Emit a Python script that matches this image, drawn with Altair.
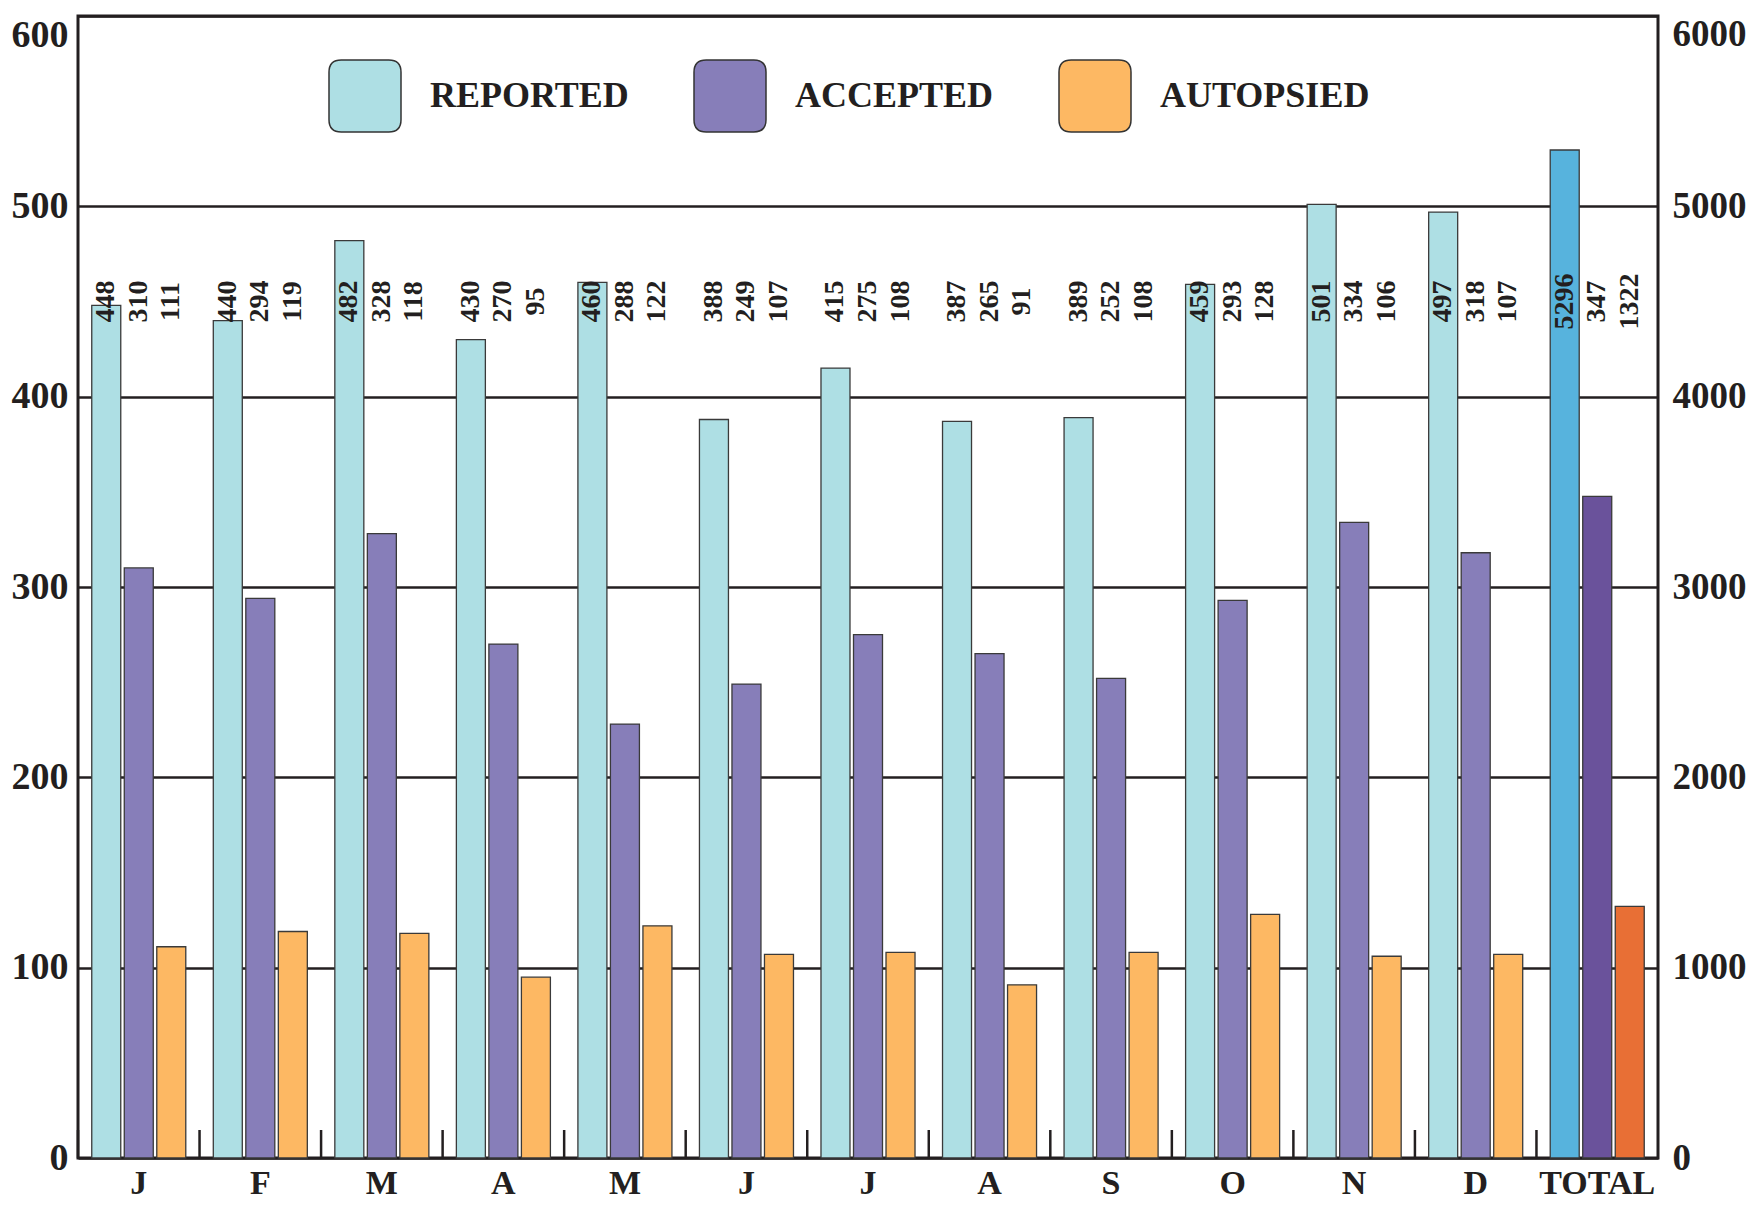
import pandas as pd
import altair as alt

# ---------------- data ----------------
MONTHS = ["J", "F", "M", "A", "M", "J", "J", "A", "S", "O", "N", "D", "TOTAL"]
KEYS = [f"{i:02d}" for i in range(len(MONTHS))]
SERIES = ["REPORTED", "ACCEPTED", "AUTOPSIED"]

REPORTED = [448, 440, 482, 430, 460, 388, 415, 387, 389, 459, 501, 497]
ACCEPTED = [310, 294, 328, 270, 228, 249, 275, 265, 252, 293, 334, 318]
AUTOPSIED = [111, 119, 118, 95, 122, 107, 108, 91, 108, 128, 106, 107]
TOTAL_VALUES = [5296, 3476, 1322]

LABEL_REPORTED = ["448", "440", "482", "430", "460", "388", "415", "387", "389", "459", "501", "497", "5296"]
LABEL_ACCEPTED = ["310", "294", "328", "270", "288", "249", "275", "265", "252", "293", "334", "318", "347"]
LABEL_AUTOPSIED = ["111", "119", "118", "95", "122", "107", "108", "91", "108", "128", "106", "107", "1322"]

LEFT_TICKS = [0, 100, 200, 300, 400, 500, 600]
RIGHT_TICKS = [0, 1000, 2000, 3000, 4000, 5000, 6000]

COLORS_MONTH = ["#AEDFE4", "#877EB9", "#FDB863"]
COLORS_TOTAL = ["#57B3DD", "#6A529B", "#E86F35"]

# ---------------- tables ----------------
month_rows = []
for i in range(12):
    for s, v in zip(SERIES, (REPORTED[i], ACCEPTED[i], AUTOPSIED[i])):
        month_rows.append({"key": KEYS[i], "series": s, "value": v, "colorkey": s})
month_df = pd.DataFrame(month_rows)

total_df = pd.DataFrame([
    {"key": KEYS[12], "series": s, "value": v, "colorkey": s + " TOTAL"}
    for s, v in zip(SERIES, TOTAL_VALUES)
])

label_rows = []
for i in range(13):
    for s, lab in zip(SERIES, (LABEL_REPORTED[i], LABEL_ACCEPTED[i], LABEL_AUTOPSIED[i])):
        label_rows.append({"key": KEYS[i], "series": s, "label": lab})
label_df = pd.DataFrame(label_rows)

sep_df = pd.DataFrame({"key": KEYS})

# ---------------- styling ----------------
PLOT_W = 1580
PLOT_H = 1142
INK = "#231F20"
FONT = "Liberation Serif"

label_expr = "[" + ",".join(f"'{m}'" for m in MONTHS) + "][toNumber(datum.value)]"

X_SCALE = alt.Scale(domain=KEYS, paddingInner=0, paddingOuter=0)
X_AXIS = alt.Axis(title=None, labelExpr=label_expr, ticks=False, domain=False, labelAngle=0,
                  labelFont=FONT, labelFontSize=34, labelFontWeight="bold", labelColor=INK,
                  labelPadding=8, grid=False)
XOFF_SCALE = alt.Scale(domain=SERIES, paddingInner=0.108, paddingOuter=0.423)

LEFT_AXIS = alt.Axis(values=LEFT_TICKS, grid=True, gridColor=INK, gridWidth=2.7, ticks=False,
                     domain=False, labelFont=FONT, labelFontSize=38, labelFontWeight="bold",
                     labelColor=INK, labelPadding=10, title=None, labelOverlap=False,
                     orient="left", format="d",
                     labelBaseline={"condition": {"test": "datum.value == 600", "value": "top"},
                                    "value": "middle"})
RIGHT_AXIS = alt.Axis(values=RIGHT_TICKS, grid=False, ticks=False, domain=False,
                      labelFont=FONT, labelFontSize=37, labelFontWeight="bold",
                      labelColor=INK, labelPadding=14, title=None, labelOverlap=False,
                      orient="right", format="d",
                      labelBaseline={"condition": {"test": "datum.value == 6000", "value": "top"},
                                     "value": "middle"})

ROUNDED = ("M-0.66,-1L0.66,-1Q1,-1,1,-0.66L1,0.66Q1,1,0.66,1L-0.66,1"
           "Q-1,1,-1,0.66L-1,-0.66Q-1,-1,-0.66,-1Z")
LEGEND = alt.Legend(values=SERIES, title=None, orient="none", legendX=250, legendY=43,
                    direction="horizontal", symbolType=ROUNDED, symbolSize=5184,
                    symbolStrokeColor="#333333", symbolStrokeWidth=1.5, symbolOpacity=1,
                    labelFont=FONT, labelFontSize=36, labelFontWeight="bold", labelColor=INK,
                    labelOffset=28, columnPadding=62, labelLimit=0, padding=0)
COLOR = alt.Color("colorkey:N",
                  scale=alt.Scale(domain=SERIES + [s + " TOTAL" for s in SERIES],
                                  range=COLORS_MONTH + COLORS_TOTAL),
                  legend=LEGEND)

month_bars = alt.Chart(month_df).mark_bar(stroke="#3A3A3A", strokeWidth=1.3).encode(
    x=alt.X("key:N", scale=X_SCALE, axis=X_AXIS),
    xOffset=alt.XOffset("series:N", scale=XOFF_SCALE),
    y=alt.Y("value:Q", scale=alt.Scale(domain=[0, 600], nice=False), axis=LEFT_AXIS),
    color=COLOR,
)

total_bars = alt.Chart(total_df).mark_bar(stroke="#3A3A3A", strokeWidth=1.3).encode(
    x=alt.X("key:N", scale=X_SCALE, axis=X_AXIS),
    xOffset=alt.XOffset("series:N", scale=XOFF_SCALE),
    y=alt.Y("value:Q", scale=alt.Scale(domain=[0, 6000], nice=False), axis=RIGHT_AXIS),
    color=COLOR,
)

labels = alt.Chart(label_df).mark_text(
    angle=270, align="center", baseline="middle", font=FONT, fontSize=28,
    fontWeight="bold", color=INK,
).encode(
    x=alt.X("key:N", scale=X_SCALE, axis=X_AXIS),
    xOffset=alt.XOffset("series:N", scale=XOFF_SCALE),
    y=alt.YDatum(450, scale=alt.Scale(domain=[0, 600], nice=False), axis=None),
    text="label:N",
)

seps = alt.Chart(sep_df).mark_rule(color=INK, strokeWidth=2.5).encode(
    x=alt.X("key:N", bandPosition=0, scale=X_SCALE, axis=X_AXIS),
    y=alt.value(PLOT_H),
    y2=alt.value(PLOT_H - 28),
)

chart = alt.layer(month_bars, total_bars, labels, seps).resolve_scale(
    y="independent"
).properties(
    width=PLOT_W, height=PLOT_H,
    padding={"left": 3, "top": 7, "right": 0, "bottom": 0},
    background="white",
).configure_view(stroke=INK, strokeWidth=3)

chart.save("out.html", embed_options={"renderer": "svg", "actions": False})
